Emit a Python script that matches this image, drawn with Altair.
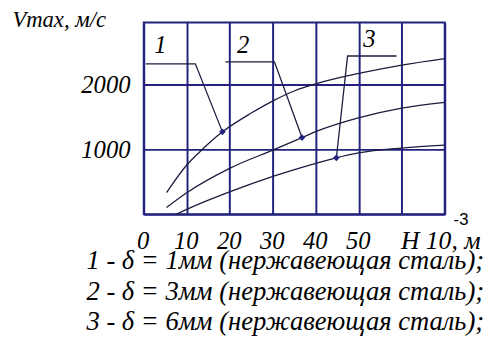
import altair as alt
import pandas as pd

# ---- data ----
H1 = [5.3, 10, 13, 18.3, 25, 30.4, 35, 40, 50, 60, 70]
V1 = [333, 760, 960, 1270, 1560, 1760, 1900, 2010, 2170, 2300, 2400]
H2 = [5.3, 10, 20.1, 30.4, 36.8, 40, 49.9, 60, 70]
V2 = [106, 333, 712, 1000, 1182, 1273, 1485, 1636, 1725]
H3 = [7.5, 10, 20.1, 30.4, 36.6, 40, 44.8, 50, 60, 70]
V3 = [0, 76, 348, 591, 720, 785, 870, 945, 1020, 1065]

curve_ids = ["1", "2", "3"]
marker_H = [18.3, 36.8, 44.8]
marker_V = [1270, 1182, 870]

# leader lines (label shelf -> marker on curve)
lead1_H = [0.5, 12.0, 18.3]
lead1_V = [2318, 2318, 1270]
lead2_H = [19.0, 30.4, 36.8]
lead2_V = [2348, 2348, 1182]
lead3_H = [58.8, 47.4, 44.8]
lead3_V = [2439, 2439, 870]

label_H = [3.9, 23.1, 52.5]
label_V = [2606, 2606, 2697]

x_ticks = [0, 10, 20, 30, 40, 50, 60, 70]
y_ticks = [0, 1000, 2000, 3000]

legend_lines = [
    "1 - δ = 1мм (нержавеющая сталь);",
    "2 - δ = 3мм (нержавеющая сталь);",
    "3 - δ = 6мм (нержавеющая сталь);",
]

NAVY = "#23237f"
CURVE = "#1c1c40"
FONT = "Liberation Serif"

rows = []
for k, (H, V) in zip(curve_ids, [(H1, V1), (H2, V2), (H3, V3)]):
    for i, (h, v) in enumerate(zip(H, V)):
        rows.append(dict(curve=k, H=h, V=v, i=i))
curves = pd.DataFrame(rows)

lrows = []
for k, (H, V) in zip(curve_ids, [(lead1_H, lead1_V), (lead2_H, lead2_V), (lead3_H, lead3_V)]):
    for i, (h, v) in enumerate(zip(H, V)):
        lrows.append(dict(curve=k, H=h, V=v, i=i))
leaders = pd.DataFrame(lrows)

markers = pd.DataFrame(dict(curve=curve_ids, H=marker_H, V=marker_V))
labels = pd.DataFrame(dict(curve=curve_ids, H=label_H, V=label_V))
exp_df = pd.DataFrame(dict(H=[70], V=[0], t=["-3"]))

xs = alt.Scale(domain=[0, 70], nice=False, zero=False)
ys = alt.Scale(domain=[0, 2955], nice=False, zero=False)

x_axis = alt.Axis(
    values=x_ticks,
    labelExpr="datum.value <= 50 ? datum.label : ''",
    grid=True, gridColor=NAVY, gridWidth=2, gridOpacity=1,
    domain=False, ticks=False,
    labelFont=FONT, labelFontStyle="italic", labelFontSize=25,
    labelColor="black", labelPadding=27, labelBaseline="middle",
    labelFlush=False, labelOffset=-1,
    title="H 10, м", titleX=261, titleY=27, titleAlign="left",
    titleBaseline="middle", titleFont=FONT, titleFontStyle="italic",
    titleFontWeight="normal", titleFontSize=26, titleColor="black",
)
y_axis = alt.Axis(
    values=y_ticks,
    format="d",
    labelExpr="datum.value > 0 && datum.value < 3000 ? datum.label : ''",
    grid=True, gridColor=NAVY, gridWidth=2, gridOpacity=1,
    domain=False, ticks=False,
    labelFont=FONT, labelFontStyle="italic", labelFontSize=25,
    labelColor="black", labelPadding=14, labelBaseline="middle",
    labelFlush=False,
    title="Vmax, м/с", titleAngle=0, titleX=-134, titleY=-3,
    titleAlign="left", titleBaseline="middle", titleFont=FONT,
    titleFontStyle="italic", titleFontWeight="normal", titleFontSize=23,
    titleColor="black",
)

X = alt.X("H:Q", scale=xs, axis=x_axis)
Y = alt.Y("V:Q", scale=ys, axis=y_axis)

curve_layer = alt.Chart(curves).mark_line(
    color=CURVE, strokeWidth=1.3, interpolate="monotone"
).encode(x=X, y=Y, detail="curve:N", order="i:Q")

leader_layer = alt.Chart(leaders).mark_line(
    color=CURVE, strokeWidth=1.3
).encode(x=X, y=Y, detail="curve:N", order="i:Q")

marker_layer = alt.Chart(markers).mark_point(
    shape="diamond", filled=True, color=NAVY, size=45, opacity=1
).encode(x=X, y=Y)

label_layer = alt.Chart(labels).mark_text(
    font=FONT, fontStyle="italic", fontSize=25, color="black",
    baseline="middle", align="center"
).encode(x=X, y=Y, text="curve:N")

exp_layer = alt.Chart(exp_df).mark_text(
    font="Liberation Sans", fontSize=17, color="black",
    align="left", baseline="middle", dx=9, dy=6
).encode(x=X, y=Y, text="t:N")

chart = alt.layer(
    curve_layer, leader_layer, marker_layer, label_layer, exp_layer
).properties(
    width=306, height=195,
    autosize=alt.AutoSizeParams(type="none"),
    padding={"left": 138, "top": 12, "right": 45, "bottom": 122},
    background="white",
    title=alt.TitleParams(
        text=legend_lines, orient="bottom", anchor="end", frame="group",
        dx=40, offset=-5,
        lineHeight=31, font=FONT, fontStyle="italic", fontWeight="normal",
        fontSize=27, color="black", baseline="top",
    ),
).configure_view(stroke=NAVY, strokeWidth=2)

chart.save("out.html", embed_options={"renderer": "svg", "actions": False})
